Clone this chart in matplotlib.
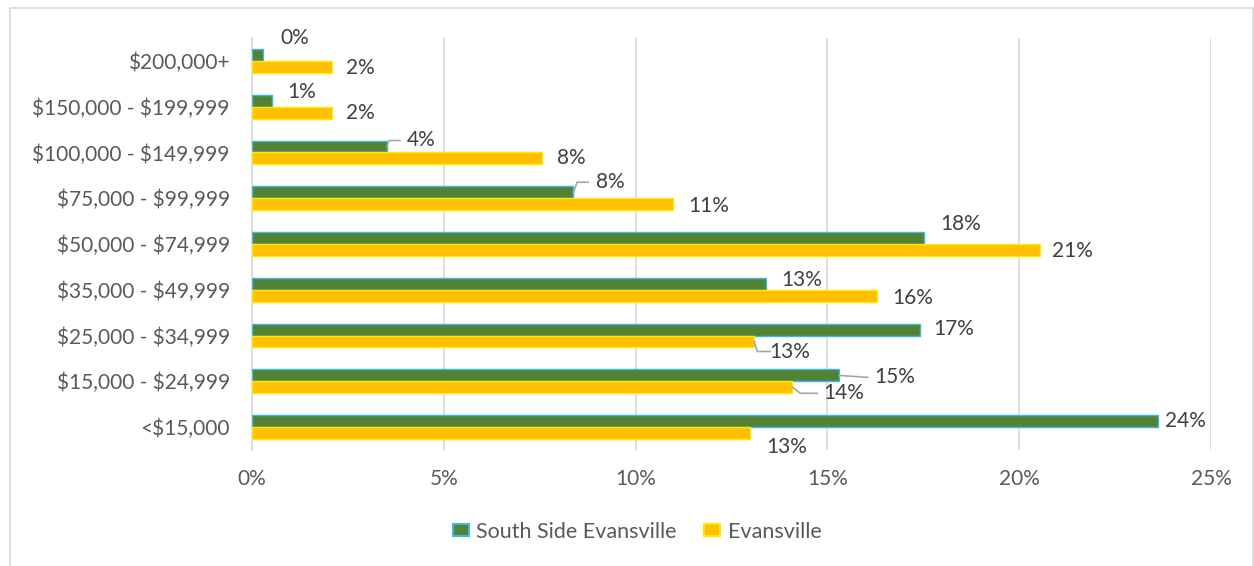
import matplotlib
matplotlib.use("Agg")
import matplotlib.pyplot as plt
from matplotlib.patches import Rectangle
import numpy as np

# Household income distribution (share of households, %)
categories = ["$200,000+", "$150,000 - $199,999", "$100,000 - $149,999",
              "$75,000 - $99,999", "$50,000 - $74,999", "$35,000 - $49,999",
              "$25,000 - $34,999", "$15,000 - $24,999", "<$15,000"]
south_side = [0.28, 0.52, 3.52, 8.38, 17.51, 13.39, 17.41, 15.30, 23.62]
evansville = [2.08, 2.08, 7.57, 10.97, 20.53, 16.29, 13.09, 14.09, 12.98]
series_names = ["South Side Evansville", "Evansville"]
x_ticks = [0, 5, 10, 15, 20, 25]
x_tick_labels = ["0%", "5%", "10%", "15%", "20%", "25%"]

FONT = ["Lato", "DejaVu Sans"]
plt.rcParams["font.family"] = FONT
plt.rcParams["text.parse_math"] = False

W, H = 1254, 566
fig = plt.figure(figsize=(W / 100, H / 100), dpi=100)
fig.patch.set_facecolor("white")

# outer chart-area border
fig.add_artist(Rectangle((10 / W, -0.01), (W - 11) / W, 1 - 8 / H + 0.01,
                         transform=fig.transFigure, fill=False,
                         edgecolor="#D9D9D9", linewidth=1.2))

ax = fig.add_axes([252 / W, 1 - 450 / H, (1211 - 252) / W, (450 - 38) / H])

GREEN, GREEN_EDGE = "#548235", "#3DB8E0"
YELLOW, YELLOW_EDGE = "#FFC000", "#FFEA00"
bar_h = 0.26
y = np.arange(len(categories))

ax.barh(y - bar_h / 2, south_side, height=bar_h, color=GREEN,
        edgecolor=GREEN_EDGE, linewidth=1.0, label=series_names[0], zorder=3)
ax.barh(y + bar_h / 2, evansville, height=bar_h, color=YELLOW,
        edgecolor=YELLOW_EDGE, linewidth=1.0, label=series_names[1], zorder=3)

ax.set_xlim(0, 25)
ax.set_ylim(len(categories) - 0.5, -0.5)
ax.set_xticks(x_ticks)
ax.set_xticklabels(x_tick_labels)
ax.set_yticks(y)
ax.set_yticklabels(categories)
ax.tick_params(axis="both", length=0, labelsize=15, labelcolor="#595959")
ax.tick_params(axis="x", pad=14)
ax.tick_params(axis="y", pad=16)
ax.xaxis.grid(True, color="#D9D9D9", linewidth=1.2, zorder=0)
ax.set_axisbelow(True)
for side in ("top", "right", "bottom"):
    ax.spines[side].set_visible(False)
ax.spines["left"].set_color("#D9D9D9")
ax.spines["left"].set_linewidth(1.2)

# label offsets (pixels) from the bar end, plus optional leader-line elbow angle
green_offsets = [(32, 17, None), (30, 9, None), (34, 6, 72), (37, 10, 70),
                 (37, 14, None), (36, 4, None), (34, 1, None), (56, -2, 0),
                 (27, 0, None)]
yellow_offsets = [(29, -1, None), (29, 0, None), (29, 0, None), (36, -2, None),
                  (33, -1, None), (36, -2, None), (36, -10, -72), (51, -6, -37),
                  (37, -14, None)]
leader_len = {(0, 2): 13, (0, 3): 15, (1, 6): 16, (1, 7): 25, (0, 7): 29}


def draw_labels(values, offsets, dy_bar, s_idx):
    for i, (v, (dx, dy, ang)) in enumerate(zip(values, offsets)):
        anchor = (v, i + dy_bar)
        ax.annotate(f"{int(v + 0.5)}%", xy=anchor, xytext=(dx, dy),
                    textcoords="offset pixels", ha="center", va="center",
                    fontsize=15, color="#404040", zorder=5)
        if ang is not None:
            end = leader_len[(s_idx, i)]
            if ang == 0:
                style = "arc3"
            else:
                style = f"angle,angleA=0,angleB={ang},rad=0"
            ax.annotate("", xy=anchor, xytext=(end, dy),
                        textcoords="offset pixels",
                        arrowprops=dict(arrowstyle="-", color="#A6A6A6",
                                        linewidth=1.2, shrinkA=0, shrinkB=0,
                                        connectionstyle=style),
                        zorder=4)


draw_labels(south_side, green_offsets, -bar_h / 2, 0)
draw_labels(evansville, yellow_offsets, bar_h / 2, 1)

leg = fig.legend(loc="center", bbox_to_anchor=(637 / W, 1 - 532 / H), ncol=2,
                 frameon=False, fontsize=15.5, labelcolor="#595959",
                 handlelength=0.75, handleheight=0.5, handletextpad=0.35,
                 columnspacing=1.25)
for patch in leg.get_patches():
    patch.set_linewidth(1.5)

fig.savefig("out.png", dpi=100, facecolor="white")
